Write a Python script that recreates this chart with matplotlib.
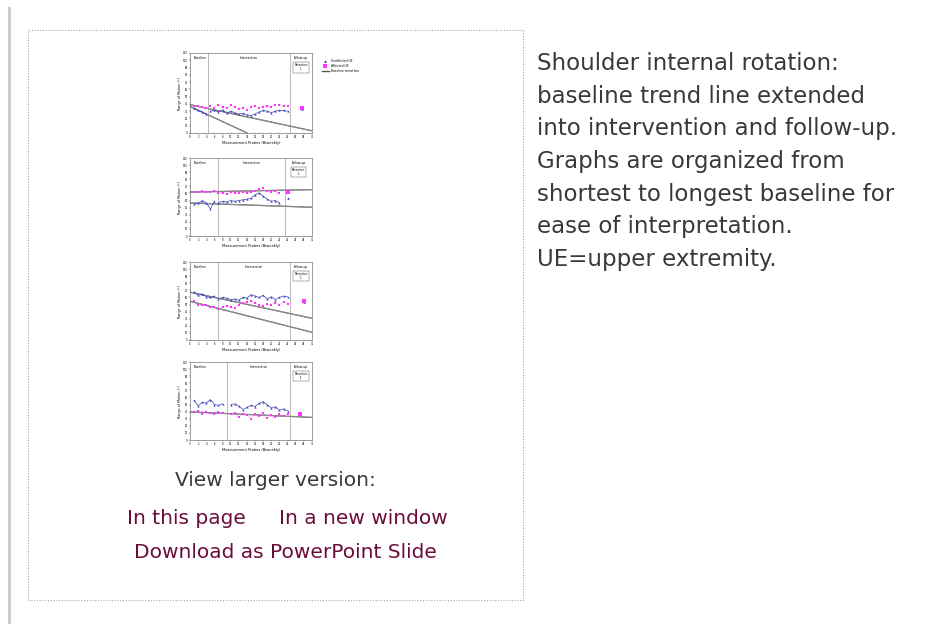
import numpy as np
import matplotlib
matplotlib.use('Agg')
import matplotlib.pyplot as plt
from matplotlib.patches import Rectangle
from matplotlib.lines import Line2D

W, H = 949, 624

# ---- data (degrees) ----
# panel 1
base_x1 = [1, 2, 3, 4]
int_x1 = list(range(5, 25))
fu_x1 = [27.5]
blue_base1 = [34, 31, 29, 26]
pink_base1 = [37.5, 37, 35.5, 34]
blue_int1 = [30, 31, 29, 32, 27, 30, 28, 26, 27, 25, 24, 26, 29, 31, 30, 28, 30, 31, 31, 30]
pink_int1 = [37, 35, 38, 36, 34, 38, 36, 33, 35, 32, 36, 37, 35, 36, 37, 36, 38, 39, 37, 37]
blue_fu1 = [33]
pink_fu1 = [34]

# panel 2
base_x2 = [1, 2, 3, 4, 5, 6]
int_x2 = list(range(7, 23))
fu_x2 = [24]
blue_base2 = [45, 46, 50, 47, 38, 49]
pink_base2 = [62, 62, 63, 62, 62, 63]
blue_int2 = [47, 49, 48, 50, 49, 50, 51, 52, 53, 58, 61, 56, 52, 49, 50, 47]
pink_int2 = [60, 61, 59, 62, 61, 60, 62, 61, 62, 63, 66, 67, 64, 62, 63, 60]
blue_fu2 = [53]
pink_fu2 = [62]

# panel 3
base_x3 = [1, 2, 3, 4, 5, 6]
int_x3 = list(range(7, 25))
fu_x3 = [28]
blue_base3 = [68, 63, 65, 61, 60, 62]
pink_base3 = [55, 50, 49, 50, 46, 47]
blue_int3 = [58, 60, 59, 57, 58, 56, 60, 59, 64, 62, 60, 63, 58, 61, 57, 60, 62, 61]
pink_int3 = [44, 46, 48, 47, 45, 50, 52, 53, 55, 52, 50, 48, 51, 49, 52, 50, 54, 51]
blue_fu3 = [54]
pink_fu3 = [55]

# panel 4
base_x4 = [1, 2, 3, 4, 5, 6, 7, 8]
int_x4 = list(range(10, 25))
fu_x4 = [27]
blue_base4 = [56, 48, 53, 52, 57, 50, 49, 51]
pink_base4 = [39, 41, 37, 40, 38, 36, 39, 38]
blue_int4 = [50, 51, 48, 43, 46, 49, 47, 52, 54, 50, 45, 47, 42, 44, 41]
pink_int4 = [36, 38, 33, 37, 35, 30, 36, 34, 38, 31, 35, 33, 36, 34, 37]
blue_fu4 = [38]
pink_fu4 = [36]

phase_lines = [(4.5, 24.6), (6.9, 23.3), (6.9, 24.6), (9.0, 24.6)]
trend_sets = [('blue', 'pink'), ('blue', 'pink'), ('blue', 'pink'), ('pink',)]

y_ticks = list(range(0, 111, 10))
caption = ["Shoulder internal rotation:",
           "baseline trend line extended",
           "into intervention and follow-up.",
           "Graphs are organized from",
           "shortest to longest baseline for",
           "ease of interpretation.",
           "UE=upper extremity."]

BLUE = '#3b3bbf'
PINK = '#ff33ff'
MAROON = '#6b0d3b'
TXT = '#3d3838'


def fx(x):
    return x / W


def fy(y):
    return 1 - y / H


fig = plt.figure(figsize=(W / 100, H / 100), dpi=100)
fig.patch.set_facecolor('white')

# page furniture
fig.add_artist(Line2D([fx(9), fx(9)], [fy(8), fy(624)], color='#cccccc', lw=2.2))
fig.add_artist(Rectangle((fx(28), fy(600)), fx(523) - fx(28), fy(30) - fy(600),
                         fill=False, ec='#a8a8a8', lw=0.8, ls=(0, (1, 1.5))))

panels = [
    (base_x1, int_x1, fu_x1, blue_base1, pink_base1, blue_int1, pink_int1, blue_fu1, pink_fu1),
    (base_x2, int_x2, fu_x2, blue_base2, pink_base2, blue_int2, pink_int2, blue_fu2, pink_fu2),
    (base_x3, int_x3, fu_x3, blue_base3, pink_base3, blue_int3, pink_int3, blue_fu3, pink_fu3),
    (base_x4, int_x4, fu_x4, blue_base4, pink_base4, blue_int4, pink_int4, blue_fu4, pink_fu4),
]
tops = [53, 158, 262, 362]
bottoms = [133, 236, 340, 440]

for k, p in enumerate(panels):
    bx, ix, fux, bb, pb, bi, pi, bf, pf = p
    ax = fig.add_axes([fx(190), fy(bottoms[k]), fx(312) - fx(190), fy(tops[k]) - fy(bottoms[k])])
    ax.set_xlim(0, 30)
    ax.set_ylim(0, 110)
    for s in ax.spines.values():
        s.set_linewidth(0.4)
        s.set_color('#555555')

    # baseline trend lines extended across the whole graph
    xs = np.array([0, 30])
    for who in trend_sets[k]:
        yb = bb if who == 'blue' else pb
        slope, icpt = np.polyfit(bx, yb, 1)
        ax.plot(xs, icpt + slope * xs, color='#444444', lw=0.9, zorder=1)
        ax.plot(xs, icpt + slope * xs, color='#bbbbbb', lw=0.4, zorder=1)

    for xx, yy in [(bx, bb), (ix, bi)]:
        ax.plot(xx, yy, color=BLUE, lw=0.5, marker='^', ms=1.6, mew=0, zorder=3)
    for xx, yy in [(bx, pb), (ix, pi)]:
        ax.plot(xx, yy, color=PINK, lw=0.4, ls=':', marker='s', ms=1.8, mew=0, zorder=4)
    ax.plot(fux, bf, color=BLUE, marker='^', ms=1.8, mew=0, ls='none', zorder=3)
    ax.plot(fux, pf, color=PINK, marker='s', ms=2.2, mew=0, ls='none', zorder=4)

    l1, l2 = phase_lines[k]
    ax.axvline(l1, color='#888888', lw=0.4)
    ax.axvline(l2, color='#888888', lw=0.4)
    ax.text(1, 106, 'Baseline', fontsize=2.2, va='top')
    ax.text((l1 + l2) / 2, 106, 'Intervention', fontsize=2.2, va='top', ha='center')
    ax.text((l2 + 30) / 2, 106, 'Follow-up', fontsize=2.2, va='top', ha='center')
    ax.text((l2 + 30) / 2, 96, 'Retention\n1', fontsize=2, va='top', ha='center',
            linespacing=1.1,
            bbox=dict(boxstyle='square,pad=0.4', fc='white', ec='#444444', lw=0.3))

    ax.set_yticks(y_ticks)
    ax.set_xticks(range(0, 31, 2))
    ax.tick_params(labelsize=1.8, length=1, width=0.3, pad=0.6)
    ax.set_ylabel('Range of Motion (°)', fontsize=2.4, labelpad=1)
    ax.set_xlabel('Measurement Probes (Biweekly)', fontsize=2.6, labelpad=1)

    if k == 0:
        hb = Line2D([], [], color=BLUE, marker='^', ms=2, ls='none', mew=0)
        hp = Line2D([], [], color=PINK, marker='s', ms=2.4, ls='none', mew=0)
        ht = Line2D([], [], color='#555555', lw=1)
        ax.legend([hb, hp, ht], ['Unaffected UE', 'Affected UE', 'Baseline trend line'],
                  loc='upper left', bbox_to_anchor=(1.06, 0.96), fontsize=2.2,
                  frameon=False, handlelength=2.2, labelspacing=0.3, handletextpad=0.8)

# text under the thumbnail
fig.text(fx(275), fy(480), 'View larger version:', fontsize=14.5, color=TXT,
         ha='center', va='center')
fig.text(fx(127), fy(518), 'In this page', fontsize=14.5, color=MAROON, ha='left', va='center')
fig.text(fx(448), fy(518), 'In a new window', fontsize=14.5, color=MAROON, ha='right', va='center')
fig.text(fx(285), fy(553), 'Download as PowerPoint Slide', fontsize=14.5, color=MAROON,
         ha='center', va='center')

# caption on the right
for i, line in enumerate(caption):
    fig.text(fx(537), fy(64 + i * 32.5), line, fontsize=16.5, color=TXT, ha='left', va='center')

fig.savefig('out.png', dpi=100, facecolor='white')
